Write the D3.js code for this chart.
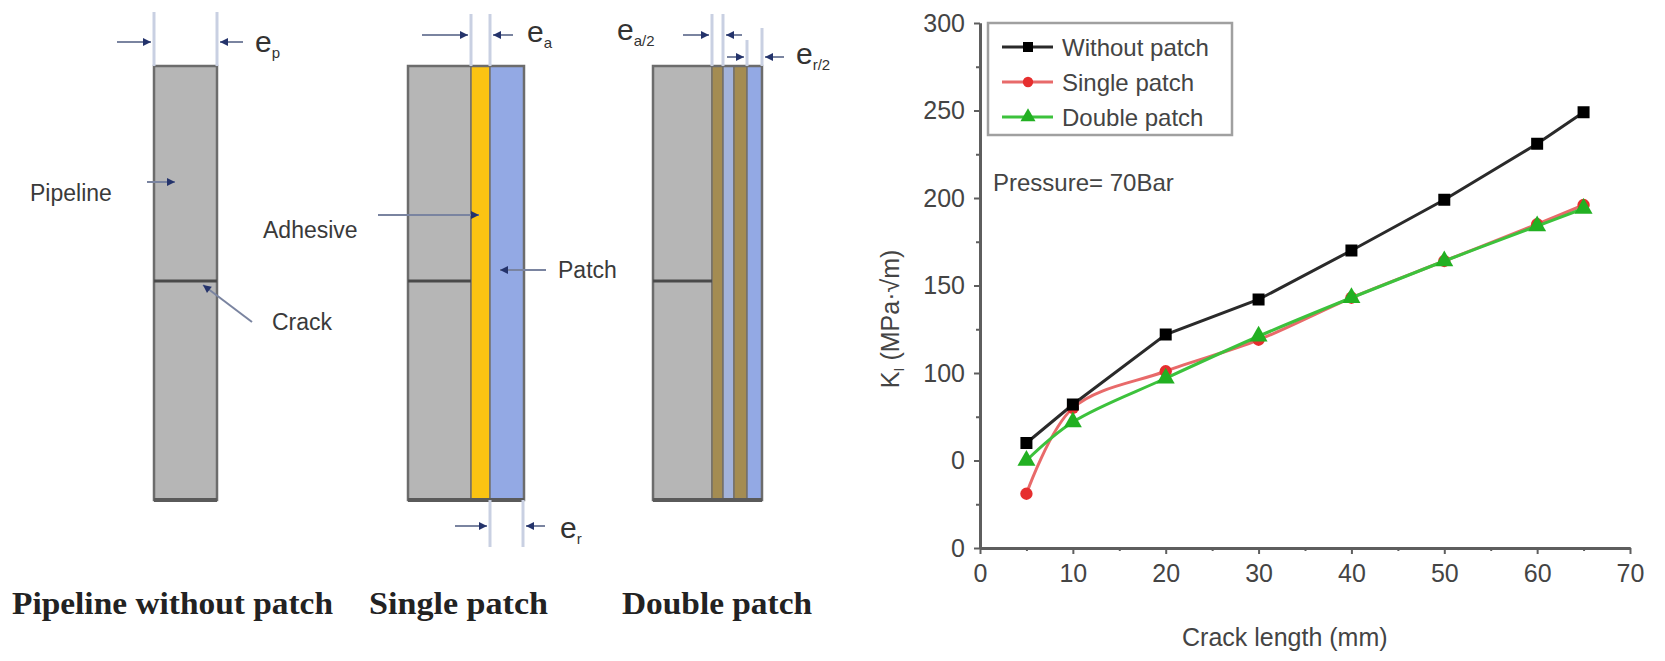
<!DOCTYPE html>
<html>
<head>
<meta charset="utf-8">
<script src="https://cdn.jsdelivr.net/npm/d3@7"></script>
<style>
  body { margin: 0; background: #fff; }
  svg { display: block; }
</style>
</head>
<body>
<div id="chart"></div>
<script>
// values
const crackLength = [5, 10, 20, 30, 40, 50, 60, 65];
const withoutPatch = [60, 82, 122, 142, 170, 199, 231, 249];
const singlePatch = [31, 80, 101, 119, 143, 164, 185, 196];
const doublePatch = [50, 72, 97, 121, 143, 164, 184, 194];
const seriesNames = ['Without patch', 'Single patch', 'Double patch'];
const xTicks = [0, 10, 20, 30, 40, 50, 60, 70];
const yTicks = [0, 50, 100, 150, 200, 250, 300];
const yTickLabels = ['0', '0', '100', '150', '200', '250', '300'];
const panelTitles = ['Pipeline without  patch', 'Single  patch', 'Double  patch'];

const width = 1665;
const height = 661;
const sans = '"Liberation Sans", Arial, sans-serif';
const serif = '"Liberation Serif", "Times New Roman", serif';

const svg = d3.select('#chart').append('svg')
  .attr('width', width)
  .attr('height', height);

svg.append('rect').attr('width', width).attr('height', height).attr('fill', '#fff');

// ---------- left: schematic of the three cases ----------
const GRAY = '#b6b6b6', YELLOW = '#fbc312', BLUE = '#93a9e4', OLIVE = '#a48c52', BLUE2 = '#a3b3da';
const panels = [
  {x: 154, layers: [[63, GRAY]]},
  {x: 408, layers: [[63, GRAY], [19, YELLOW], [34, BLUE]]},
  {x: 653, layers: [[59, GRAY], [11, OLIVE], [11, BLUE2], [13, OLIVE], [15, BLUE]]}
];
const pipeTop = 66, pipeBottom = 500, crackY = 281;

const schem = svg.append('g');
panels.forEach(function(p) {
  let x = p.x;
  p.layers.forEach(function(l) {
    schem.append('rect')
      .attr('x', x).attr('y', pipeTop).attr('width', l[0]).attr('height', pipeBottom - pipeTop)
      .attr('fill', l[1]).attr('stroke', '#74706a').attr('stroke-width', 1.5);
    x += l[0];
  });
  const total = x - p.x;
  schem.append('rect')
    .attr('x', p.x).attr('y', pipeTop).attr('width', total).attr('height', pipeBottom - pipeTop)
    .attr('fill', 'none').attr('stroke', '#6c6c6c').attr('stroke-width', 2.5);
  schem.append('line')
    .attr('x1', p.x).attr('x2', x).attr('y1', pipeBottom).attr('y2', pipeBottom)
    .attr('stroke', '#5a5a5a').attr('stroke-width', 4);
  // crack
  schem.append('line')
    .attr('x1', p.x).attr('x2', p.x + p.layers[0][0]).attr('y1', crackY).attr('y2', crackY)
    .attr('stroke', '#4a4a4a').attr('stroke-width', 3);
});

const NAVY = '#24336b';
function arrow(x1, y1, x2, y2) {
  schem.append('line')
    .attr('x1', x1).attr('y1', y1).attr('x2', x2).attr('y2', y2)
    .attr('stroke', '#7a84a0').attr('stroke-width', 2);
  const a = Math.atan2(y2 - y1, x2 - x1);
  const s = 8;
  const pts = [[x2, y2],
    [x2 - s * Math.cos(a) + 4 * Math.sin(a), y2 - s * Math.sin(a) - 4 * Math.cos(a)],
    [x2 - s * Math.cos(a) - 4 * Math.sin(a), y2 - s * Math.sin(a) + 4 * Math.cos(a)]];
  schem.append('polygon').attr('points', pts.join(' ')).attr('fill', NAVY);
}
function ext(x, y1, y2) {
  schem.append('line')
    .attr('x1', x).attr('x2', x).attr('y1', y1).attr('y2', y2)
    .attr('stroke', '#c9d0e2').attr('stroke-width', 3);
}
function eLabel(x, y, sub) {
  const t = schem.append('text').attr('x', x).attr('y', y)
    .attr('font-family', sans).attr('font-size', 30).attr('fill', '#333');
  t.append('tspan').text('e');
  t.append('tspan').attr('dy', 6).attr('font-size', 15).text(sub);
}
function label(x, y, txt) {
  schem.append('text').attr('x', x).attr('y', y)
    .attr('font-family', sans).attr('font-size', 23).attr('fill', '#3a3a3a').text(txt);
}

// panel 1 dimension
ext(154, 12, 66); ext(217, 12, 66);
arrow(117, 42, 151, 42); arrow(243, 42, 220, 42);
eLabel(255, 52, 'p');
// panel 2 dimensions
ext(471, 14, 66); ext(490, 14, 66);
arrow(422, 35, 468, 35); arrow(513, 35, 493, 35);
eLabel(527, 42, 'a');
ext(490, 500, 547); ext(523, 500, 547);
arrow(455, 526, 487, 526); arrow(545, 526, 526, 526);
eLabel(560, 538, 'r');
// panel 3 dimensions
ext(712, 14, 66); ext(723, 14, 66);
arrow(683, 35, 709, 35); arrow(742, 35, 726, 35);
eLabel(617, 40, 'a/2');
ext(747, 40, 66); ext(762, 28, 66);
arrow(727, 57, 744, 57); arrow(784, 57, 765, 57);
eLabel(796, 64, 'r/2');

// callouts
label(30, 201, 'Pipeline');
arrow(147, 182, 175, 182);
label(272, 330, 'Crack');
arrow(252, 322, 203, 285);
label(263, 238, 'Adhesive');
arrow(378, 215, 479, 215);
label(558, 278, 'Patch');
arrow(546, 270, 500, 270);

const titleSpan = [[12, 333], [369, 548], [622, 812]];
panelTitles.forEach(function(t, i) {
  schem.append('text')
    .attr('x', titleSpan[i][0]).attr('y', 614)
    .attr('textLength', titleSpan[i][1] - titleSpan[i][0])
    .attr('lengthAdjust', 'spacingAndGlyphs')
    .attr('font-family', serif).attr('font-weight', 'bold').attr('font-size', 32)
    .attr('fill', '#222').text(t);
});

// ---------- right: K_I vs crack length ----------
const x = d3.scaleLinear().domain([0, 70]).range([980, 1630]);
const y = d3.scaleLinear().domain([0, 300]).range([548, 23]);
const AXIS = '#5e5e5e', TEXT = '#444';

svg.append('g').attr('transform', 'translate(0,' + y(0) + ')')
  .call(d3.axisBottom(x).tickValues(xTicks).tickSize(6).tickPadding(10).tickSizeOuter(0));
svg.append('g').attr('transform', 'translate(0,' + y(0) + ')')
  .call(d3.axisBottom(x).tickValues(d3.range(5, 70, 10)).tickSize(3).tickFormat('').tickSizeOuter(0));
svg.append('g').attr('transform', 'translate(' + x(0) + ',0)')
  .call(d3.axisLeft(y).tickValues(yTicks).tickSize(6).tickPadding(9).tickSizeOuter(0)
    .tickFormat(function(d, i) { return yTickLabels[i]; }));
svg.append('g').attr('transform', 'translate(' + x(0) + ',0)')
  .call(d3.axisLeft(y).tickValues(d3.range(25, 300, 50)).tickSize(4).tickFormat('').tickSizeOuter(0));

svg.selectAll('.domain').attr('stroke', AXIS).attr('stroke-width', 3);
svg.selectAll('.tick line').attr('stroke', AXIS).attr('stroke-width', 2);
svg.selectAll('.tick text').attr('font-family', sans).attr('font-size', 25).attr('fill', TEXT);

svg.append('text')
  .attr('x', 1182).attr('y', 646)
  .attr('font-family', sans).attr('font-size', 25).attr('fill', TEXT)
  .text('Crack length (mm)');

const yTitle = svg.append('text')
  .attr('transform', 'translate(899,319) rotate(-90)')
  .attr('text-anchor', 'middle')
  .attr('font-family', sans).attr('font-size', 25).attr('fill', TEXT);
yTitle.append('tspan').text('K');
yTitle.append('tspan').attr('dy', 5).attr('font-size', 15).text('I');
yTitle.append('tspan').attr('dy', -5).text(' (MPa\u00b7\u221am)');

svg.append('text')
  .attr('x', 993).attr('y', 191)
  .attr('font-family', sans).attr('font-size', 24).attr('fill', TEXT)
  .text('Pressure= 70Bar');

const series = [
  {name: seriesNames[1], values: singlePatch, color: '#e62e2e', line: '#e86a6a', symbol: d3.symbolCircle, size: 120, curve: d3.curveCatmullRom},
  {name: seriesNames[2], values: doublePatch, color: '#22b022', line: '#3cc23c', symbol: d3.symbolTriangle, size: 140, curve: d3.curveCatmullRom},
  {name: seriesNames[0], values: withoutPatch, color: '#000', line: '#2a2a2a', symbol: d3.symbolSquare, size: 144, curve: d3.curveLinear}
];

const plot = svg.append('g');
series.forEach(function(s) {
  const pts = crackLength.map(function(c, i) { return [c, s.values[i]]; });
  plot.append('path')
    .datum(pts)
    .attr('fill', 'none')
    .attr('stroke', s.line)
    .attr('stroke-width', 3)
    .attr('d', d3.line().x(function(d) { return x(d[0]); }).y(function(d) { return y(d[1]); }).curve(s.curve));
  plot.selectAll(null)
    .data(pts)
    .enter()
    .append('path')
    .attr('transform', function(d) { return 'translate(' + x(d[0]) + ',' + y(d[1]) + ')'; })
    .attr('d', d3.symbol().type(s.symbol).size(s.size))
    .attr('fill', s.color);
});

// legend
const legend = svg.append('g');
legend.append('rect')
  .attr('x', 988).attr('y', 23).attr('width', 244).attr('height', 112)
  .attr('fill', '#fff').attr('stroke', '#a0a0a0').attr('stroke-width', 2.5);
[series[2], series[0], series[1]].forEach(function(s, i) {
  const ly = 47 + i * 35;
  legend.append('line')
    .attr('x1', 1002).attr('x2', 1053).attr('y1', ly).attr('y2', ly)
    .attr('stroke', s.line).attr('stroke-width', 3);
  legend.append('path')
    .attr('transform', 'translate(1028,' + ly + ')')
    .attr('d', d3.symbol().type(s.symbol).size(s.size * 0.7))
    .attr('fill', s.color);
  legend.append('text')
    .attr('x', 1062).attr('y', ly + 9)
    .attr('font-family', sans).attr('font-size', 24).attr('fill', TEXT)
    .text(s.name);
});
</script>
</body>
</html>
